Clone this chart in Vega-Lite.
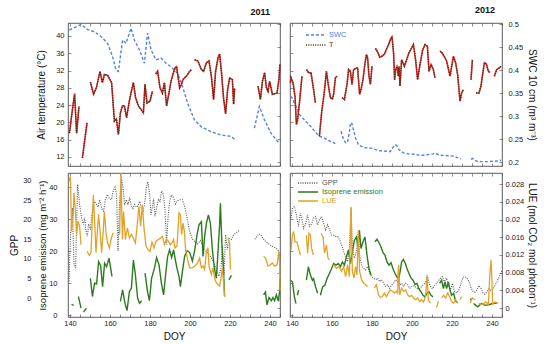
{
"$schema":"https://vega.github.io/schema/vega-lite/v6.json",
"background":"white",
"padding":{"left":9,"top":5,"right":0,"bottom":0},
"bounds":"flush",
"config":{"font":"Liberation Sans","view":{"stroke":"#333","strokeWidth":0.8},
"axis":{"labelFontSize":7.5,"titleFontSize":10,"titleFontWeight":"normal","labelColor":"#222","titleColor":"#111","grid":false,"domain":false,"tickColor":"#444","tickWidth":0.6,"labelOverlap":false},
"title":{"fontSize":9,"fontWeight":"bold","anchor":"end","offset":5,"color":"#111","frame":"group"}},
"columns":2,
"spacing":{"row":7,"column":10},
"resolve":{"scale":{"color":"independent"},"legend":{"color":"independent"}},
"concat":[
{"width":212,"height":143,
"title":{"text":"2011","dx":-10},
"layer":[
{"data":{"name":"s11"},"mark":{"type":"line","color":"#5580e0","strokeWidth":1.4,"strokeDash":[3,2]},"encoding":{"x":{"field":"d","type":"quantitative","scale":{"domain":[139,245],"nice":false,"zero":false},"axis":null},"y":{"field":"v","type":"quantitative","scale":{"domain":[0.1916,0.5022],"nice":false,"zero":false},"axis":{"orient":"right","labels":false,"title":null,"tickSize":-3,"values":[0.2,0.25,0.3,0.35,0.4,0.45,0.5]}},"detail":{"field":"g"}}},
{"data":{"name":"t11"},"mark":{"type":"line","color":"#e02828","strokeWidth":1.5},"encoding":{"x":{"field":"d","type":"quantitative","scale":{"domain":[139,245],"nice":false,"zero":false},"axis":{"values":[140,145,150,155,160,165,170,175,180,185,190,195,200,205,210,215,220,225,230,235,240,245],"labels":false,"title":null,"tickSize":-3}},"y":{"field":"v","type":"quantitative","scale":{"domain":[9.9,43],"nice":false,"zero":false},"axis":{"orient":"left","title":"Air temperature (°C)","values":[12,16,20,24,28,32,36,40],"tickSize":-3,"labelPadding":7,"titlePadding":9}},"detail":{"field":"g"}}},
{"data":{"name":"t11"},"mark":{"type":"line","color":"#4a2a10","strokeWidth":1.5,"strokeDash":[1,1.3]},"encoding":{"x":{"field":"d","type":"quantitative","scale":{"domain":[139,245],"nice":false,"zero":false},"axis":{"orient":"top","values":[140,145,150,155,160,165,170,175,180,185,190,195,200,205,210,215,220,225,230,235,240,245],"labels":false,"title":null,"tickSize":-3}},"y":{"field":"v","type":"quantitative","scale":{"domain":[9.9,43],"nice":false,"zero":false},"axis":null},"detail":{"field":"g"}}}
],
"resolve":{"scale":{"x":"independent","y":"independent"},"axis":{"x":"independent","y":"independent"}}},
{"width":212,"height":143,
"title":{"text":"2012","dx":-7},
"layer":[
{"data":{"name":"s12"},"mark":{"type":"line","strokeWidth":1.4,"strokeDash":[3,2]},"encoding":{"x":{"field":"d","type":"quantitative","scale":{"domain":[139,245],"nice":false,"zero":false},"axis":{"values":[140,145,150,155,160,165,170,175,180,185,190,195,200,205,210,215,220,225,230,235,240,245],"labels":false,"title":null,"tickSize":-3}},"y":{"field":"v","type":"quantitative","scale":{"domain":[0.1916,0.5022],"nice":false,"zero":false},"axis":{"orient":"right","title":"SWC 10 cm (m³ m⁻³)","values":[0.2,0.25,0.3,0.35,0.4,0.45,0.5],"format":"~g","tickSize":-3,"labelPadding":9,"titlePadding":4}},"detail":{"field":"g"},
"color":{"datum":"SWC","type":"nominal","scale":{"domain":["SWC","T"],"range":["#5580e0","#5a2a10"]},"legend":{"orient":"none","legendX":21,"legendY":7,"title":null,"symbolType":"M-2.5,0H2.5","symbolSize":64,"symbolStrokeWidth":1.5,"symbolFillColor":"transparent","labelFontSize":7.5,"labelOffset":8,"rowPadding":1,"padding":0,
"encode":{"symbols":{"update":{"strokeDash":{"signal":"datum.label === 'SWC' ? [3,2] : [1,1.3]"},"fill":{"value":"transparent"}}},"labels":{"update":{"fill":{"signal":"datum.label === 'SWC' ? '#5580e0' : '#7a3018'"}}}}}}}},
{"data":{"name":"t12"},"mark":{"type":"line","color":"#e02828","strokeWidth":1.5},"encoding":{"x":{"field":"d","type":"quantitative","scale":{"domain":[139,245],"nice":false,"zero":false},"axis":{"orient":"top","values":[140,145,150,155,160,165,170,175,180,185,190,195,200,205,210,215,220,225,230,235,240,245],"labels":false,"title":null,"tickSize":-3}},"y":{"field":"v","type":"quantitative","scale":{"domain":[9.9,43],"nice":false,"zero":false},"axis":{"orient":"left","labels":false,"title":null,"tickSize":-3,"values":[12,16,20,24,28,32,36,40]}},"detail":{"field":"g"}}},
{"data":{"name":"t12"},"mark":{"type":"line","strokeWidth":1.5,"strokeDash":[1,1.3]},"encoding":{"x":{"field":"d","type":"quantitative","scale":{"domain":[139,245],"nice":false,"zero":false},"axis":null},"y":{"field":"v","type":"quantitative","scale":{"domain":[9.9,43],"nice":false,"zero":false},"axis":null},"detail":{"field":"g"},"color":{"datum":"T","type":"nominal"}}}
],
"resolve":{"scale":{"x":"independent","y":"independent"},"axis":{"x":"independent","y":"independent"}}},
{"width":212,"height":144,
"layer":[
{"data":{"name":"g11"},"mark":{"type":"line","color":"#555555","strokeWidth":1.1,"strokeDash":[1,1.3]},"encoding":{"x":{"field":"d","type":"quantitative","scale":{"domain":[139,245],"nice":false,"zero":false},"axis":{"values":[140,145,150,155,160,165,170,175,180,185,190,195,200,205,210,215,220,225,230,235,240,245],"labelExpr":"datum.value % 20 === 0 ? datum.label : ''","labelFlush":false,"tickSize":-3,"labelPadding":5,"title":"DOY","titlePadding":5}},"y":{"field":"v","type":"quantitative","scale":{"domain":[-4.8,31.9],"nice":false,"zero":false},"axis":{"orient":"left","title":"GPP","values":[0,5,10,15,20,25,30],"ticks":false,"offset":30,"labelPadding":7,"titlePadding":3}},"detail":{"field":"g"}}},
{"data":{"name":"i11"},"mark":{"type":"line","color":"#2e7a1e","strokeWidth":1.4},"encoding":{"x":{"field":"d","type":"quantitative","scale":{"domain":[139,245],"nice":false,"zero":false},"axis":{"orient":"top","values":[140,145,150,155,160,165,170,175,180,185,190,195,200,205,210,215,220,225,230,235,240,245],"labels":false,"title":null,"tickSize":-3}},"y":{"field":"v","type":"quantitative","scale":{"domain":[-0.6,44.4],"nice":false,"zero":false},"axis":{"orient":"left","title":"Isoprene emisison (mg m⁻² h⁻¹)","titleFontSize":9.5,"values":[0,10,20,30,40],"tickSize":-3,"labelPadding":14,"titlePadding":1}},"detail":{"field":"g"}}},
{"data":{"name":"l11"},"mark":{"type":"line","color":"#e0a32a","strokeWidth":1.3},"encoding":{"x":{"field":"d","type":"quantitative","scale":{"domain":[139,245],"nice":false,"zero":false},"axis":null},"y":{"field":"v","type":"quantitative","scale":{"domain":[-0.002,0.0305],"nice":false,"zero":false},"axis":{"orient":"right","labels":false,"title":null,"tickSize":-3,"values":[0,0.004,0.008,0.012,0.016,0.02,0.024,0.028]}},"detail":{"field":"g"}}}
],
"resolve":{"scale":{"x":"independent","y":"independent"},"axis":{"x":"independent","y":"independent"}}},
{"width":212,"height":144,
"layer":[
{"data":{"name":"g12"},"mark":{"type":"line","strokeWidth":1.1,"strokeDash":[1,1.3]},"encoding":{"x":{"field":"d","type":"quantitative","scale":{"domain":[139,245],"nice":false,"zero":false},"axis":{"values":[140,145,150,155,160,165,170,175,180,185,190,195,200,205,210,215,220,225,230,235,240,245],"labelExpr":"datum.value % 20 === 0 ? datum.label : ''","labelFlush":false,"tickSize":-3,"labelPadding":5,"title":"DOY","titlePadding":5}},"y":{"field":"v","type":"quantitative","scale":{"domain":[-4.8,31.9],"nice":false,"zero":false},"axis":null},"detail":{"field":"g"},
"color":{"datum":"GPP","type":"nominal","scale":{"domain":["GPP","Isoprene emission","LUE"],"range":["#555555","#2e7a1e","#e0a32a"]},"legend":{"orient":"none","legendX":13,"legendY":5,"title":null,"symbolType":"M-2.5,0H2.5","symbolSize":64,"symbolStrokeWidth":1.5,"symbolFillColor":"transparent","labelFontSize":7.5,"labelOffset":9,"rowPadding":0,"padding":0,
"encode":{"symbols":{"update":{"strokeDash":{"signal":"datum.label === 'GPP' ? [1,1.3] : [1,0]"},"fill":{"value":"transparent"}}},"labels":{"update":{"fill":{"signal":"datum.label === 'GPP' ? '#555555' : datum.label === 'LUE' ? '#d89a20' : '#2e7a1e'"}}}}}}}},
{"data":{"name":"i12"},"mark":{"type":"line","strokeWidth":1.4},"encoding":{"x":{"field":"d","type":"quantitative","scale":{"domain":[139,245],"nice":false,"zero":false},"axis":{"orient":"top","values":[140,145,150,155,160,165,170,175,180,185,190,195,200,205,210,215,220,225,230,235,240,245],"labels":false,"title":null,"tickSize":-3}},"y":{"field":"v","type":"quantitative","scale":{"domain":[-0.6,44.4],"nice":false,"zero":false},"axis":{"orient":"left","labels":false,"title":null,"tickSize":-3,"values":[0,10,20,30,40]}},"detail":{"field":"g"},"color":{"datum":"Isoprene emission","type":"nominal"}}},
{"data":{"name":"l12"},"mark":{"type":"line","strokeWidth":1.3},"encoding":{"x":{"field":"d","type":"quantitative","scale":{"domain":[139,245],"nice":false,"zero":false},"axis":null},"y":{"field":"v","type":"quantitative","scale":{"domain":[-0.002,0.0305],"nice":false,"zero":false},"axis":{"orient":"right","title":"LUE (mol CO₂ mol photon⁻¹)","values":[0,0.004,0.008,0.012,0.016,0.02,0.024,0.028],"format":"~g","tickSize":-3,"labelPadding":6,"titlePadding":3}},"detail":{"field":"g"},"color":{"datum":"LUE","type":"nominal"}}}
],
"resolve":{"scale":{"x":"independent","y":"independent"},"axis":{"x":"independent","y":"independent"}}}
],
"datasets":{
"t11":[
{"d":139.7,"v":17.5,"g":"A"},{"d":141,"v":22.2,"g":"A"},{"d":142.3,"v":26.6,"g":"A"},{"d":143.3,"v":17.5,"g":"A"},{"d":144.5,"v":23.7,"g":"A"},
{"d":146.2,"v":11.8,"g":"B"},{"d":148.5,"v":19.9,"g":"B"},
{"d":150.2,"v":29.3,"g":"C"},{"d":151.8,"v":26.5,"g":"C"},{"d":153.3,"v":28.2,"g":"C"},{"d":155,"v":31.8,"g":"C"},{"d":156.2,"v":29.2,"g":"C"},{"d":157.2,"v":31.1,"g":"C"},{"d":158.8,"v":30.9,"g":"C"},{"d":160.8,"v":29.2,"g":"C"},{"d":162.2,"v":20.3,"g":"C"},{"d":163.2,"v":20.8,"g":"C"},{"d":164.2,"v":17.2,"g":"C"},{"d":165.2,"v":22.2,"g":"C"},{"d":166.2,"v":23.8,"g":"C"},{"d":167.2,"v":23.8,"g":"C"},{"d":168.3,"v":21.1,"g":"C"},{"d":169.5,"v":24.5,"g":"C"},{"d":170.5,"v":26.8,"g":"C"},{"d":171.7,"v":29.2,"g":"C"},{"d":172.8,"v":25.7,"g":"C"},{"d":174.2,"v":23.8,"g":"C"},{"d":175.5,"v":23,"g":"C"},{"d":176.7,"v":22.2,"g":"C"},{"d":177.5,"v":28.8,"g":"C"},{"d":178.5,"v":24.5,"g":"C"},{"d":180,"v":24.9,"g":"C"},{"d":181.2,"v":27.2,"g":"C"},
{"d":182.8,"v":31.2,"g":"D"},{"d":183.8,"v":31.8,"g":"D"},{"d":185,"v":28,"g":"D"},{"d":186.2,"v":26.8,"g":"D"},{"d":187.2,"v":29.2,"g":"D"},{"d":188.3,"v":23.8,"g":"D"},{"d":189.5,"v":26.8,"g":"D"},{"d":190.5,"v":29.5,"g":"D"},{"d":191.7,"v":31.5,"g":"D"},{"d":192.5,"v":32.6,"g":"D"},{"d":193.3,"v":32.9,"g":"D"},{"d":194.8,"v":28,"g":"D"},{"d":195.7,"v":28.8,"g":"D"},{"d":196.5,"v":29.9,"g":"D"},{"d":198.2,"v":30.7,"g":"D"},{"d":199.8,"v":31.8,"g":"D"},{"d":200.7,"v":32.2,"g":"D"},
{"d":202.3,"v":34.5,"g":"E"},{"d":204,"v":34.2,"g":"E"},{"d":205.7,"v":32.2,"g":"E"},{"d":206.8,"v":31.8,"g":"E"},{"d":208.2,"v":33.8,"g":"E"},{"d":209.5,"v":34.2,"g":"E"},{"d":210.7,"v":30.6,"g":"E"},{"d":211.8,"v":25.3,"g":"E"},{"d":212.8,"v":31.8,"g":"E"},{"d":214,"v":34.9,"g":"E"},{"d":214.8,"v":35.8,"g":"E"},{"d":215.7,"v":31.8,"g":"E"},{"d":216.8,"v":25.5,"g":"E"},{"d":217.8,"v":22,"g":"E"},{"d":218.8,"v":27.5,"g":"E"},{"d":219.8,"v":30.3,"g":"E"},{"d":221.2,"v":29.9,"g":"E"},{"d":221.8,"v":24.2,"g":"E"},{"d":222.3,"v":27.9,"g":"E"},
{"d":234,"v":28.4,"g":"F"},{"d":235.2,"v":25.3,"g":"F"},{"d":236.2,"v":29.5,"g":"F"},{"d":237.3,"v":31.5,"g":"F"},{"d":238.2,"v":28,"g":"F"},{"d":239,"v":27.2,"g":"F"},{"d":239.8,"v":29.5,"g":"F"},{"d":241.2,"v":26.5,"g":"F"},{"d":242.2,"v":26.6,"g":"F"},{"d":243.5,"v":26.8,"g":"F"},{"d":244.5,"v":30,"g":"F"},{"d":245,"v":33.5,"g":"F"}
],
"s11":[
{"d":139.7,"v":0.487,"g":"A"},{"d":145.5,"v":0.499,"g":"A"},{"d":148.8,"v":0.488,"g":"A"},{"d":152.2,"v":0.483,"g":"A"},{"d":155.5,"v":0.473,"g":"A"},{"d":158.8,"v":0.458,"g":"A"},{"d":161.3,"v":0.429,"g":"A"},{"d":163,"v":0.4,"g":"A"},{"d":164.2,"v":0.397,"g":"A"},{"d":166.3,"v":0.465,"g":"A"},{"d":168,"v":0.458,"g":"A"},{"d":170.5,"v":0.491,"g":"A"},{"d":172.2,"v":0.465,"g":"A"},{"d":174.7,"v":0.444,"g":"A"},{"d":177.2,"v":0.415,"g":"A"},{"d":178.8,"v":0.48,"g":"A"},{"d":180.5,"v":0.444,"g":"A"},{"d":183,"v":0.422,"g":"A"},{"d":185.5,"v":0.426,"g":"A"},{"d":188,"v":0.415,"g":"A"},{"d":190.5,"v":0.407,"g":"A"},{"d":193.8,"v":0.393,"g":"A"},{"d":196.3,"v":0.364,"g":"A"},{"d":198.8,"v":0.328,"g":"A"},{"d":202.2,"v":0.292,"g":"A"},{"d":205.5,"v":0.277,"g":"A"},{"d":210.5,"v":0.266,"g":"A"},{"d":215.5,"v":0.259,"g":"A"},{"d":220.5,"v":0.256,"g":"A"},{"d":222.2,"v":0.25,"g":"A"},
{"d":232.2,"v":0.274,"g":"B"},{"d":234.7,"v":0.321,"g":"B"},{"d":237.2,"v":0.292,"g":"B"},{"d":240.5,"v":0.263,"g":"B"},{"d":243.8,"v":0.245,"g":"B"},{"d":245,"v":0.241,"g":"B"}
],
"t12":[
{"d":139.2,"v":29.2,"g":"1"},{"d":139.5,"v":30.3,"g":"1"},{"d":140.5,"v":29.2,"g":"1"},{"d":141.5,"v":26,"g":"1"},{"d":142.2,"v":19.5,"g":"1"},{"d":142.8,"v":20.6,"g":"1"},{"d":143.8,"v":24.9,"g":"1"},{"d":145,"v":30.7,"g":"1"},
{"d":147.2,"v":32.2,"g":"2"},{"d":148.3,"v":31.5,"g":"2"},{"d":149.5,"v":31.5,"g":"2"},{"d":150.8,"v":27.6,"g":"2"},{"d":151.7,"v":24.5,"g":"2"},
{"d":153.7,"v":16.8,"g":"3"},{"d":154.8,"v":22.2,"g":"3"},{"d":156.2,"v":27.2,"g":"3"},{"d":157.2,"v":31.8,"g":"3"},{"d":158.3,"v":28.2,"g":"3"},{"d":159.2,"v":25.7,"g":"3"},{"d":160.2,"v":25.4,"g":"3"},{"d":160.8,"v":26.5,"g":"3"},{"d":161.7,"v":30.3,"g":"3"},{"d":162.5,"v":30.7,"g":"3"},
{"d":165,"v":25.7,"g":"4"},{"d":166.2,"v":25.3,"g":"4"},{"d":167.5,"v":28.8,"g":"4"},{"d":168.3,"v":32.2,"g":"4"},{"d":169.2,"v":31.8,"g":"4"},{"d":170,"v":28.8,"g":"4"},{"d":170.8,"v":32.2,"g":"4"},{"d":172.2,"v":32.6,"g":"4"},{"d":172.8,"v":32.6,"g":"4"},{"d":173.8,"v":26.5,"g":"4"},{"d":174.5,"v":27.6,"g":"4"},{"d":175.5,"v":29.9,"g":"4"},{"d":176.3,"v":33,"g":"4"},{"d":177.2,"v":35.7,"g":"4"},{"d":177.8,"v":34.9,"g":"4"},{"d":178.5,"v":30.7,"g":"4"},{"d":179.2,"v":28.8,"g":"4"},{"d":180,"v":33,"g":"4"},
{"d":181.7,"v":37.1,"g":"5"},{"d":182.8,"v":36.3,"g":"5"},{"d":183.8,"v":35.1,"g":"5"},{"d":185,"v":35.3,"g":"5"},{"d":186.2,"v":35.8,"g":"5"},{"d":187.5,"v":37.2,"g":"5"},{"d":188.3,"v":38,"g":"5"},{"d":189.2,"v":39.2,"g":"5"},{"d":190,"v":39.8,"g":"5"},{"d":190.8,"v":36,"g":"5"},{"d":191.3,"v":29.8,"g":"5"},{"d":191.8,"v":32.2,"g":"5"},{"d":192.5,"v":32.9,"g":"5"},{"d":193.2,"v":30.7,"g":"5"},{"d":193.5,"v":32.9,"g":"5"},{"d":194,"v":28.4,"g":"5"},{"d":194.8,"v":34.5,"g":"5"},{"d":196.2,"v":33,"g":"5"},{"d":197.3,"v":34.5,"g":"5"},{"d":198.5,"v":36.1,"g":"5"},{"d":199.8,"v":37.2,"g":"5"},{"d":200.7,"v":38,"g":"5"},{"d":201.8,"v":34.5,"g":"5"},{"d":202.8,"v":29.9,"g":"5"},{"d":204,"v":33.4,"g":"5"},{"d":205.2,"v":36.5,"g":"5"},{"d":206.5,"v":38,"g":"5"},{"d":207.7,"v":37.6,"g":"5"},{"d":208.5,"v":31.8,"g":"5"},{"d":209.5,"v":33.4,"g":"5"},{"d":210.7,"v":32.2,"g":"5"},{"d":211.5,"v":30.3,"g":"5"},
{"d":214,"v":36.5,"g":"6"},{"d":215,"v":36.1,"g":"6"},{"d":216.2,"v":35.2,"g":"6"},{"d":217.3,"v":34.2,"g":"6"},{"d":219,"v":30.7,"g":"6"},{"d":220.7,"v":35.3,"g":"6"},{"d":221.8,"v":33.8,"g":"6"},{"d":222.8,"v":31.1,"g":"6"},{"d":223.5,"v":27.6,"g":"6"},{"d":224,"v":24.9,"g":"6"},{"d":224.8,"v":26.8,"g":"6"},{"d":225.7,"v":27.6,"g":"6"},
{"d":229.5,"v":29.9,"g":"7"},{"d":230.2,"v":34.5,"g":"7"},
{"d":232,"v":26.8,"g":"8"},{"d":233.5,"v":26.8,"g":"8"},{"d":234.5,"v":28.4,"g":"8"},{"d":235.3,"v":31.1,"g":"8"},{"d":236.2,"v":33.8,"g":"8"},{"d":237.2,"v":33.5,"g":"8"},{"d":238.2,"v":31.8,"g":"8"},{"d":239,"v":31.5,"g":"8"},
{"d":241.2,"v":30.7,"g":"9"},{"d":242.3,"v":32.2,"g":"9"},{"d":243.3,"v":32.5,"g":"9"},{"d":244.5,"v":33,"g":"9"}
],
"s12":[
{"d":139.2,"v":0.343,"g":"1"},{"d":140.2,"v":0.339,"g":"1"},{"d":141.2,"v":0.326,"g":"1"},{"d":142.5,"v":0.317,"g":"1"},{"d":143.8,"v":0.303,"g":"1"},{"d":145.5,"v":0.295,"g":"1"},{"d":147.2,"v":0.287,"g":"1"},{"d":148.3,"v":0.283,"g":"1"},{"d":149.5,"v":0.277,"g":"1"},{"d":150.8,"v":0.27,"g":"1"},{"d":152.2,"v":0.263,"g":"1"},{"d":153.8,"v":0.256,"g":"1"},{"d":155.5,"v":0.254,"g":"1"},{"d":157.5,"v":0.249,"g":"1"},{"d":158.8,"v":0.246,"g":"1"},{"d":160,"v":0.244,"g":"1"},{"d":161.7,"v":0.24,"g":"1"},
{"d":164.5,"v":0.267,"g":"2"},{"d":165.5,"v":0.253,"g":"2"},{"d":166.8,"v":0.242,"g":"2"},{"d":167.8,"v":0.243,"g":"2"},{"d":168.7,"v":0.266,"g":"2"},{"d":169.2,"v":0.283,"g":"2"},{"d":169.8,"v":0.286,"g":"2"},{"d":170.5,"v":0.274,"g":"2"},{"d":171.7,"v":0.253,"g":"2"},{"d":173.3,"v":0.237,"g":"2"},{"d":175.8,"v":0.232,"g":"2"},{"d":177.8,"v":0.231,"g":"2"},{"d":180,"v":0.23,"g":"2"},{"d":183.3,"v":0.225,"g":"2"},{"d":185.8,"v":0.224,"g":"2"},{"d":189.2,"v":0.223,"g":"2"},{"d":190.5,"v":0.232,"g":"2"},{"d":191.7,"v":0.238,"g":"2"},{"d":192.5,"v":0.235,"g":"2"},{"d":193.5,"v":0.227,"g":"2"},{"d":195.7,"v":0.22,"g":"2"},{"d":198.2,"v":0.218,"g":"2"},{"d":200.7,"v":0.217,"g":"2"},{"d":204,"v":0.215,"g":"2"},{"d":206.5,"v":0.215,"g":"2"},{"d":209,"v":0.217,"g":"2"},{"d":210.7,"v":0.218,"g":"2"},{"d":211.5,"v":0.22,"g":"2"},{"d":212.8,"v":0.217,"g":"2"},{"d":214.8,"v":0.215,"g":"2"},{"d":218.2,"v":0.214,"g":"2"},{"d":220.7,"v":0.213,"g":"2"},{"d":223.2,"v":0.209,"g":"2"},{"d":224.5,"v":0.207,"g":"2"},
{"d":229.5,"v":0.206,"g":"3"},{"d":230.3,"v":0.208,"g":"3"},{"d":232.3,"v":0.202,"g":"3"},{"d":234.8,"v":0.201,"g":"3"},{"d":238.2,"v":0.201,"g":"3"},{"d":240.7,"v":0.202,"g":"3"},{"d":242.3,"v":0.202,"g":"3"},{"d":244.5,"v":0.204,"g":"3"}
],
"g11":[
{"d":139.5,"v":4.3,"g":"A"},{"d":140.3,"v":16.2,"g":"A"},{"d":141.2,"v":23,"g":"A"},{"d":142,"v":8.6,"g":"A"},{"d":142.8,"v":7.7,"g":"A"},{"d":143.8,"v":29,"g":"A"},{"d":144.8,"v":23.9,"g":"A"},{"d":145.8,"v":20.5,"g":"A"},{"d":146.7,"v":18.8,"g":"A"},{"d":147.3,"v":20.5,"g":"A"},{"d":148,"v":17.1,"g":"A"},{"d":148.7,"v":15.8,"g":"A"},{"d":149.3,"v":18.9,"g":"A"},{"d":150.2,"v":17.5,"g":"A"},{"d":151,"v":21.3,"g":"A"},{"d":152,"v":24.7,"g":"A"},{"d":153,"v":24.1,"g":"A"},{"d":154,"v":23.2,"g":"A"},{"d":154.8,"v":25.1,"g":"A"},{"d":155.8,"v":22.9,"g":"A"},{"d":156.8,"v":22.2,"g":"A"},{"d":157.7,"v":25.1,"g":"A"},{"d":158.7,"v":26.4,"g":"A"},{"d":159.7,"v":25.4,"g":"A"},{"d":160.7,"v":25.1,"g":"A"},{"d":161.5,"v":27.1,"g":"A"},{"d":162.5,"v":28.3,"g":"A"},{"d":163.3,"v":26.4,"g":"A"},{"d":164,"v":12,"g":"A"},{"d":164.8,"v":24.7,"g":"A"},{"d":165.7,"v":30.7,"g":"A"},{"d":166.5,"v":28.1,"g":"A"},{"d":167.3,"v":23.7,"g":"A"},{"d":168.2,"v":25.1,"g":"A"},{"d":169,"v":23.7,"g":"A"},{"d":169.8,"v":25.6,"g":"A"},{"d":170.7,"v":23.4,"g":"A"},{"d":171.5,"v":22.9,"g":"A"},{"d":172.3,"v":23.9,"g":"A"},{"d":173.2,"v":23.2,"g":"A"},{"d":174,"v":23.5,"g":"A"},{"d":174.8,"v":24.7,"g":"A"},{"d":175.7,"v":22.9,"g":"A"},{"d":176.5,"v":22.3,"g":"A"},{"d":177.3,"v":23.9,"g":"A"},{"d":178.2,"v":28.5,"g":"A"},{"d":179,"v":29.7,"g":"A"},{"d":179.8,"v":26.4,"g":"A"},{"d":180.5,"v":21.3,"g":"A"},{"d":181.2,"v":23.2,"g":"A"},{"d":181.8,"v":25.4,"g":"A"},{"d":182.5,"v":20.9,"g":"A"},{"d":183.3,"v":23,"g":"A"},{"d":184.2,"v":25.1,"g":"A"},{"d":185,"v":24.7,"g":"A"},{"d":185.8,"v":27.3,"g":"A"},{"d":186.7,"v":26.4,"g":"A"},{"d":187.5,"v":22.6,"g":"A"},{"d":188.3,"v":13.7,"g":"A"},{"d":189,"v":20.5,"g":"A"},{"d":189.8,"v":24.7,"g":"A"},{"d":190.8,"v":26.3,"g":"A"},{"d":191.8,"v":25.6,"g":"A"},{"d":192.8,"v":24,"g":"A"},{"d":193.5,"v":24.7,"g":"A"},{"d":194.8,"v":25.1,"g":"A"},{"d":196.2,"v":25.1,"g":"A"},{"d":197.3,"v":23.4,"g":"A"},{"d":198.5,"v":20.5,"g":"A"},{"d":199.8,"v":17.1,"g":"A"},{"d":201.2,"v":15,"g":"A"},{"d":202.5,"v":14.4,"g":"A"},{"d":203.8,"v":13.8,"g":"A"},{"d":205.2,"v":14.7,"g":"A"},{"d":206.5,"v":13.3,"g":"A"},{"d":207.8,"v":12.1,"g":"A"},{"d":209.2,"v":11.3,"g":"A"},{"d":210.5,"v":10.5,"g":"A"},{"d":211.8,"v":9,"g":"A"},{"d":213.2,"v":7.3,"g":"A"},{"d":214.5,"v":5.6,"g":"A"},{"d":215.5,"v":7.7,"g":"A"},{"d":216.2,"v":13.3,"g":"A"},{"d":217,"v":6,"g":"A"},{"d":217.8,"v":16.2,"g":"A"},{"d":218.7,"v":12.4,"g":"A"},{"d":219.5,"v":15.2,"g":"A"},{"d":220.7,"v":15,"g":"A"},{"d":221.8,"v":16.2,"g":"A"},{"d":223.2,"v":16.7,"g":"A"},{"d":224.5,"v":17.2,"g":"A"},
{"d":232.5,"v":15,"g":"B"},{"d":233.5,"v":15.8,"g":"B"},{"d":234.5,"v":16.4,"g":"B"},{"d":235.5,"v":16.1,"g":"B"},{"d":236.5,"v":15.2,"g":"B"},{"d":237.7,"v":14.5,"g":"B"},{"d":238.8,"v":14.1,"g":"B"},{"d":240.2,"v":13.5,"g":"B"},{"d":241.5,"v":13.1,"g":"B"},{"d":242.8,"v":12.8,"g":"B"},{"d":244.2,"v":12.1,"g":"B"},{"d":245,"v":10.4,"g":"B"}
],
"i11":[
{"d":140.8,"v":3.4,"g":"A"},{"d":141.8,"v":3,"g":"A"},
{"d":144.2,"v":5.8,"g":"B"},{"d":144.8,"v":4.1,"g":"B"},{"d":145.5,"v":2.2,"g":"B"},
{"d":146.8,"v":0.9,"g":"C"},{"d":148.2,"v":2.2,"g":"C"},
{"d":150.2,"v":11.5,"g":"D"},{"d":151.2,"v":5.8,"g":"D"},{"d":152.3,"v":10,"g":"D"},{"d":153.3,"v":9.7,"g":"D"},{"d":154.3,"v":16.7,"g":"D"},{"d":155.3,"v":15.5,"g":"D"},{"d":156.3,"v":8.9,"g":"D"},{"d":157.3,"v":16.2,"g":"D"},{"d":158.3,"v":15.1,"g":"D"},{"d":159.5,"v":17.8,"g":"D"},{"d":161,"v":12.1,"g":"D"},
{"d":165.2,"v":4.3,"g":"E"},{"d":166.3,"v":7.9,"g":"E"},{"d":167.5,"v":3.7,"g":"E"},{"d":168.5,"v":1.4,"g":"E"},{"d":169.7,"v":7.4,"g":"E"},{"d":170.7,"v":8.4,"g":"E"},{"d":171.7,"v":17.2,"g":"E"},{"d":172.7,"v":12.6,"g":"E"},{"d":173.8,"v":5.3,"g":"E"},{"d":174.8,"v":3.7,"g":"E"},{"d":175.8,"v":4.5,"g":"E"},
{"d":177.5,"v":13.1,"g":"F"},{"d":178.8,"v":7.2,"g":"F"},{"d":179.7,"v":4.5,"g":"F"},{"d":180.8,"v":11.5,"g":"F"},{"d":182.2,"v":14.6,"g":"F"},{"d":183.3,"v":18,"g":"F"},{"d":184.5,"v":15.7,"g":"F"},{"d":185.7,"v":10,"g":"F"},{"d":186.8,"v":6.3,"g":"F"},{"d":187.8,"v":12.6,"g":"F"},{"d":188.8,"v":18.3,"g":"F"},{"d":189.8,"v":20.4,"g":"F"},{"d":190.8,"v":18,"g":"F"},{"d":191.8,"v":20.4,"g":"F"},{"d":192.5,"v":17.8,"g":"F"},{"d":193.5,"v":14.6,"g":"F"},{"d":194.5,"v":12.1,"g":"F"},{"d":195.2,"v":8.9,"g":"F"},{"d":196.2,"v":13.6,"g":"F"},{"d":197.3,"v":18.3,"g":"F"},{"d":198.5,"v":20.1,"g":"F"},{"d":199.8,"v":19.6,"g":"F"},{"d":201.2,"v":16.9,"g":"F"},{"d":202.3,"v":20.1,"g":"F"},{"d":203.5,"v":25,"g":"F"},{"d":204.5,"v":28.2,"g":"F"},{"d":205.7,"v":29.2,"g":"F"},{"d":206.5,"v":18.3,"g":"F"},{"d":207.3,"v":24.5,"g":"F"},{"d":208.2,"v":28.7,"g":"F"},{"d":209.2,"v":31.3,"g":"F"},{"d":210.2,"v":28.7,"g":"F"},{"d":211.2,"v":20.4,"g":"F"},{"d":212.2,"v":14.6,"g":"F"},{"d":213.2,"v":11.5,"g":"F"},{"d":214,"v":19.8,"g":"F"},{"d":214.8,"v":28.2,"g":"F"},{"d":215.2,"v":34.9,"g":"F"},{"d":216,"v":21.4,"g":"F"},{"d":216.7,"v":14.6,"g":"F"},{"d":217.3,"v":5.8,"g":"F"},
{"d":219.5,"v":11,"g":"H"},{"d":220.7,"v":12.4,"g":"H"},
{"d":236.8,"v":6.3,"g":"I"},{"d":237.7,"v":7.2,"g":"I"},{"d":238.5,"v":3.2,"g":"I"},{"d":239.5,"v":5.5,"g":"I"},{"d":240.7,"v":4.5,"g":"I"},{"d":241.5,"v":5.5,"g":"I"},{"d":242.3,"v":4.5,"g":"I"},{"d":243.2,"v":6.3,"g":"I"},{"d":244.2,"v":4.3,"g":"I"},{"d":244.8,"v":7.4,"g":"I"},{"d":245,"v":11.5,"g":"I"}
],
"l11":[
{"d":139.5,"v":0.0286,"g":"A"},{"d":140.2,"v":0.0297,"g":"A"},{"d":140.8,"v":0.0173,"g":"A"},{"d":141.5,"v":0.0203,"g":"A"},{"d":142,"v":0.026,"g":"A"},{"d":142.7,"v":0.0218,"g":"A"},{"d":143.3,"v":0.0166,"g":"A"},{"d":144,"v":0.0196,"g":"A"},{"d":144.8,"v":0.0185,"g":"A"},{"d":145.5,"v":0.0143,"g":"A"},
{"d":148.5,"v":0.0128,"g":"B"},{"d":149.7,"v":0.0119,"g":"B"},{"d":150.5,"v":0.0125,"g":"B"},{"d":151.2,"v":0.0207,"g":"B"},{"d":151.7,"v":0.0256,"g":"B"},{"d":152.3,"v":0.0196,"g":"B"},{"d":153,"v":0.0125,"g":"B"},{"d":153.8,"v":0.0181,"g":"B"},{"d":154.3,"v":0.0211,"g":"B"},{"d":155.2,"v":0.0166,"g":"B"},{"d":155.8,"v":0.0125,"g":"B"},{"d":156.5,"v":0.0166,"g":"B"},{"d":157.2,"v":0.0218,"g":"B"},{"d":158,"v":0.017,"g":"B"},{"d":158.8,"v":0.0147,"g":"B"},{"d":159.7,"v":0.0136,"g":"B"},{"d":160.5,"v":0.0155,"g":"B"},{"d":161.5,"v":0.017,"g":"B"},
{"d":164.8,"v":0.0166,"g":"C"},{"d":165.5,"v":0.0305,"g":"C"},{"d":166.2,"v":0.0155,"g":"C"},{"d":166.8,"v":0.0218,"g":"C"},{"d":167.7,"v":0.0155,"g":"C"},{"d":168.7,"v":0.0181,"g":"C"},{"d":169.7,"v":0.0158,"g":"C"},{"d":170.7,"v":0.0167,"g":"C"},{"d":171.7,"v":0.0157,"g":"C"},{"d":172.7,"v":0.0147,"g":"C"},{"d":173.7,"v":0.0192,"g":"C"},{"d":174.5,"v":0.023,"g":"C"},{"d":175.3,"v":0.0185,"g":"C"},{"d":176.2,"v":0.0233,"g":"C"},{"d":177,"v":0.0181,"g":"C"},{"d":178,"v":0.014,"g":"C"},{"d":179,"v":0.0132,"g":"C"},{"d":180,"v":0.0128,"g":"C"},{"d":181,"v":0.0149,"g":"C"},{"d":182,"v":0.0136,"g":"C"},{"d":183,"v":0.0151,"g":"C"},{"d":184.2,"v":0.0155,"g":"C"},{"d":185.2,"v":0.0158,"g":"C"},{"d":186.2,"v":0.0162,"g":"C"},{"d":187.2,"v":0.0143,"g":"C"},{"d":188.2,"v":0.0155,"g":"C"},{"d":189.2,"v":0.0151,"g":"C"},{"d":190.2,"v":0.0143,"g":"C"},{"d":191.2,"v":0.0149,"g":"C"},{"d":191.8,"v":0.0155,"g":"C"},{"d":192.5,"v":0.0136,"g":"C"},{"d":193.5,"v":0.014,"g":"C"},{"d":194.5,"v":0.0215,"g":"C"},{"d":195.2,"v":0.0211,"g":"C"},{"d":195.8,"v":0.0166,"g":"C"},{"d":196.5,"v":0.0192,"g":"C"},{"d":197.2,"v":0.0173,"g":"C"},{"d":197.8,"v":0.0132,"g":"C"},{"d":198.8,"v":0.011,"g":"C"},{"d":199.8,"v":0.0091,"g":"C"},{"d":201.2,"v":0.0091,"g":"C"},{"d":202.5,"v":0.0095,"g":"C"},{"d":203.8,"v":0.0102,"g":"C"},{"d":204.8,"v":0.0113,"g":"C"},{"d":205.7,"v":0.0091,"g":"C"},{"d":206.5,"v":0.0095,"g":"C"},{"d":207.3,"v":0.0087,"g":"C"},{"d":208.2,"v":0.0128,"g":"C"},{"d":209,"v":0.0136,"g":"C"},{"d":209.5,"v":0.0095,"g":"C"},{"d":210.7,"v":0.0076,"g":"C"},{"d":211.5,"v":0.0091,"g":"C"},{"d":212.3,"v":0.0068,"g":"C"},{"d":213.2,"v":0.0057,"g":"C"},{"d":214,"v":0.0053,"g":"C"},{"d":214.8,"v":0.005,"g":"C"},{"d":215.3,"v":0.0061,"g":"C"},{"d":216.2,"v":0.0091,"g":"C"},{"d":216.8,"v":0.0057,"g":"C"},{"d":217.3,"v":0.0027,"g":"C"},
{"d":219,"v":0.0158,"g":"D"},{"d":219.8,"v":0.0147,"g":"D"},{"d":220.2,"v":0.0087,"g":"D"},
{"d":236.8,"v":0.0117,"g":"E"},{"d":237.8,"v":0.0113,"g":"E"},{"d":239,"v":0.0095,"g":"E"},{"d":240.2,"v":0.0098,"g":"E"},{"d":241.2,"v":0.0102,"g":"E"},{"d":242.3,"v":0.0095,"g":"E"},{"d":243.5,"v":0.0098,"g":"E"},{"d":244.5,"v":0.0128,"g":"E"},{"d":244.8,"v":0.0098,"g":"E"},{"d":245,"v":0.0038,"g":"E"}
],
"g12":[
{"d":139.5,"v":20.4,"g":"A"},{"d":140.3,"v":22.9,"g":"A"},{"d":141.2,"v":23.4,"g":"A"},{"d":142.2,"v":21.2,"g":"A"},{"d":143.2,"v":18.3,"g":"A"},{"d":144.2,"v":21.7,"g":"A"},{"d":145,"v":20,"g":"A"},{"d":145.8,"v":17.8,"g":"A"},{"d":146.8,"v":18.9,"g":"A"},{"d":147.8,"v":21.2,"g":"A"},{"d":148.8,"v":18.3,"g":"A"},{"d":149.8,"v":18.9,"g":"A"},{"d":150.8,"v":20.4,"g":"A"},{"d":151.8,"v":20.8,"g":"A"},{"d":152.8,"v":18.7,"g":"A"},{"d":153.8,"v":20,"g":"A"},{"d":154.8,"v":20.8,"g":"A"},{"d":155.8,"v":19.1,"g":"A"},{"d":156.8,"v":17.4,"g":"A"},{"d":157.8,"v":18.7,"g":"A"},{"d":158.8,"v":17.4,"g":"A"},{"d":159.8,"v":16.1,"g":"A"},{"d":160.8,"v":16.1,"g":"A"},{"d":161.8,"v":15.7,"g":"A"},{"d":162.8,"v":15.7,"g":"A"},{"d":163.8,"v":14.9,"g":"A"},{"d":164.8,"v":13.6,"g":"A"},{"d":165.8,"v":11.9,"g":"A"},{"d":166.8,"v":10.6,"g":"A"},{"d":167.8,"v":9.3,"g":"A"},{"d":168.8,"v":13.6,"g":"A"},{"d":169.5,"v":22.9,"g":"A"},{"d":170.2,"v":12.7,"g":"A"},{"d":171.2,"v":10.2,"g":"A"},{"d":172.2,"v":11.9,"g":"A"},{"d":173.2,"v":17,"g":"A"},{"d":173.8,"v":11,"g":"A"},{"d":174.8,"v":8.5,"g":"A"},{"d":175.8,"v":7.6,"g":"A"},{"d":176.8,"v":7.2,"g":"A"},{"d":177.8,"v":8.1,"g":"A"},{"d":178.8,"v":6.4,"g":"A"},{"d":179.8,"v":5.5,"g":"A"},{"d":180.8,"v":5.1,"g":"A"},{"d":181.8,"v":4.7,"g":"A"},{"d":182.8,"v":5.1,"g":"A"},{"d":183.8,"v":4.2,"g":"A"},{"d":184.8,"v":4.7,"g":"A"},{"d":185.8,"v":3.8,"g":"A"},{"d":186.8,"v":3,"g":"A"},{"d":187.8,"v":3.4,"g":"A"},{"d":188.8,"v":2.5,"g":"A"},{"d":189.8,"v":3.4,"g":"A"},{"d":190.8,"v":3.8,"g":"A"},{"d":191.8,"v":4.7,"g":"A"},{"d":192.8,"v":4.2,"g":"A"},{"d":193.3,"v":8.1,"g":"A"},{"d":193.8,"v":3.4,"g":"A"},{"d":194.8,"v":3.8,"g":"A"},{"d":195.8,"v":3,"g":"A"},{"d":196.8,"v":3.8,"g":"A"},{"d":197.8,"v":3.4,"g":"A"},{"d":198.8,"v":2.5,"g":"A"},{"d":199.8,"v":3,"g":"A"},{"d":201.2,"v":3.2,"g":"A"},{"d":202.5,"v":2.5,"g":"A"},{"d":203.8,"v":2.4,"g":"A"},{"d":205.2,"v":3.2,"g":"A"},{"d":206.5,"v":3.8,"g":"A"},{"d":207.8,"v":5.5,"g":"A"},{"d":208.8,"v":3.4,"g":"A"},{"d":210.2,"v":2.4,"g":"A"},{"d":211.5,"v":3.4,"g":"A"},{"d":212.8,"v":4.1,"g":"A"},{"d":214.2,"v":5.1,"g":"A"},{"d":215.2,"v":5.5,"g":"A"},{"d":216.2,"v":4.2,"g":"A"},{"d":217.2,"v":5.1,"g":"A"},{"d":218.2,"v":3.4,"g":"A"},{"d":219.2,"v":1.9,"g":"A"},{"d":220.2,"v":3.8,"g":"A"},{"d":221.2,"v":1.7,"g":"A"},{"d":222.3,"v":1.3,"g":"A"},{"d":223.5,"v":2.1,"g":"A"},{"d":224.5,"v":3.8,"g":"A"},{"d":225.5,"v":5.3,"g":"A"},{"d":226.5,"v":5.5,"g":"A"},{"d":227.5,"v":5.1,"g":"A"},{"d":228.5,"v":4.2,"g":"A"},{"d":229.5,"v":2.7,"g":"A"},{"d":230.5,"v":1.7,"g":"A"},{"d":231.5,"v":1.5,"g":"A"},{"d":232.5,"v":2.1,"g":"A"},{"d":233.5,"v":3.2,"g":"A"},{"d":234.5,"v":2.5,"g":"A"},{"d":235.5,"v":1.3,"g":"A"},{"d":236.5,"v":1,"g":"A"},{"d":237.5,"v":1.7,"g":"A"},{"d":238.5,"v":2.4,"g":"A"},{"d":239.5,"v":1.9,"g":"A"},{"d":240.5,"v":2.4,"g":"A"},{"d":241.5,"v":3.2,"g":"A"},{"d":242.5,"v":4.2,"g":"A"},{"d":243.5,"v":5.3,"g":"A"},{"d":244.5,"v":6.4,"g":"A"},{"d":245,"v":7,"g":"A"}
],
"i12":[
{"d":139.2,"v":10.9,"g":"A"},{"d":140.2,"v":10.4,"g":"A"},{"d":141.2,"v":5.7,"g":"A"},{"d":142,"v":3.6,"g":"A"},
{"d":142.7,"v":6.2,"g":"A2"},{"d":143.3,"v":7.8,"g":"A2"},
{"d":147.2,"v":10.9,"g":"B"},{"d":148.2,"v":15.1,"g":"B"},{"d":149.2,"v":12.5,"g":"B"},{"d":150.2,"v":10.9,"g":"B"},{"d":150.8,"v":11.4,"g":"B"},{"d":151.8,"v":8.8,"g":"B"},{"d":152.8,"v":6.8,"g":"B"},
{"d":154.2,"v":6.2,"g":"C"},{"d":155.3,"v":8.8,"g":"C"},{"d":156.5,"v":9.4,"g":"C"},{"d":157.5,"v":11.4,"g":"C"},{"d":158.7,"v":13,"g":"C"},{"d":159.8,"v":14.5,"g":"C"},{"d":160.8,"v":16.1,"g":"C"},{"d":162,"v":15.6,"g":"C"},{"d":163.2,"v":16.1,"g":"C"},{"d":164.2,"v":15.1,"g":"C"},{"d":165.2,"v":16.6,"g":"C"},{"d":166.2,"v":15.6,"g":"C"},{"d":167.2,"v":18.2,"g":"C"},{"d":168.2,"v":20.3,"g":"C"},{"d":169.2,"v":16.1,"g":"C"},{"d":170.2,"v":19.7,"g":"C"},{"d":171.2,"v":23.4,"g":"C"},{"d":172.2,"v":24.4,"g":"C"},{"d":173,"v":21.3,"g":"C"},{"d":173.7,"v":26.5,"g":"C"},{"d":174.5,"v":20.8,"g":"C"},{"d":175.5,"v":22.9,"g":"C"},{"d":176.5,"v":24.4,"g":"C"},{"d":177.5,"v":18.7,"g":"C"},{"d":178.5,"v":14.5,"g":"C"},{"d":179.5,"v":12.5,"g":"C"},
{"d":181.5,"v":22.9,"g":"D"},{"d":182.5,"v":23.7,"g":"D"},{"d":183.5,"v":22.6,"g":"D"},{"d":184.5,"v":21.3,"g":"D"},{"d":185.5,"v":19.5,"g":"D"},{"d":186.5,"v":18.7,"g":"D"},{"d":187.5,"v":16.6,"g":"D"},{"d":188.5,"v":15.6,"g":"D"},{"d":189.5,"v":16.4,"g":"D"},{"d":190.5,"v":14.5,"g":"D"},{"d":191.5,"v":13,"g":"D"},{"d":192.5,"v":11.9,"g":"D"},{"d":193.3,"v":11.4,"g":"D"},{"d":194.2,"v":14,"g":"D"},{"d":194.8,"v":16.6,"g":"D"},{"d":195.7,"v":17.4,"g":"D"},{"d":196.7,"v":16.1,"g":"D"},{"d":197.5,"v":14.5,"g":"D"},{"d":198.5,"v":13,"g":"D"},{"d":199.5,"v":11.6,"g":"D"},{"d":200.5,"v":10.9,"g":"D"},{"d":201.5,"v":9.6,"g":"D"},{"d":202.5,"v":9.9,"g":"D"},{"d":203.5,"v":8.1,"g":"D"},{"d":204.5,"v":7.3,"g":"D"},{"d":205.5,"v":6.2,"g":"D"},{"d":206.5,"v":5.7,"g":"D"},{"d":207.5,"v":6.8,"g":"D"},{"d":208.5,"v":7.3,"g":"D"},{"d":209.5,"v":6.2,"g":"D"},{"d":210.5,"v":5.7,"g":"D"},
{"d":213.8,"v":9.9,"g":"E"},{"d":214.8,"v":10.9,"g":"E"},{"d":215.7,"v":8.3,"g":"E"},{"d":216.5,"v":10.4,"g":"E"},{"d":217.3,"v":8.3,"g":"E"},{"d":218.2,"v":10.4,"g":"E"},{"d":219,"v":7.8,"g":"E"},{"d":219.8,"v":6.2,"g":"E"},{"d":220.8,"v":6.8,"g":"E"},{"d":221.8,"v":4.4,"g":"E"},{"d":222.8,"v":3.9,"g":"E"},
{"d":229.2,"v":4.7,"g":"F"},{"d":229.8,"v":5.2,"g":"F"},
{"d":230.8,"v":3.6,"g":"G"},{"d":231.8,"v":3.1,"g":"G"},{"d":232.8,"v":2.6,"g":"G"},{"d":233.8,"v":3.1,"g":"G"},{"d":234.8,"v":3.6,"g":"G"},{"d":236.2,"v":3.1,"g":"G"},{"d":237.5,"v":3.1,"g":"G"},{"d":238.8,"v":3.3,"g":"G"},{"d":240.2,"v":3.6,"g":"G"},{"d":241.5,"v":3.7,"g":"G"},{"d":242.8,"v":3.8,"g":"G"}
],
"l12":[
{"d":139.5,"v":0.0131,"g":"A"},{"d":140.2,"v":0.0165,"g":"A"},{"d":140.8,"v":0.0173,"g":"A"},{"d":141.5,"v":0.015,"g":"A"},{"d":142.5,"v":0.0149,"g":"A"},{"d":143.3,"v":0.0135,"g":"A"},{"d":144.2,"v":0.012,"g":"A"},
{"d":147.2,"v":0.0165,"g":"B"},{"d":147.8,"v":0.0124,"g":"B"},{"d":148.5,"v":0.0169,"g":"B"},{"d":149.2,"v":0.0165,"g":"B"},{"d":149.8,"v":0.0135,"g":"B"},{"d":150.7,"v":0.012,"g":"B"},
{"d":154.5,"v":0.0169,"g":"C"},{"d":155.5,"v":0.0161,"g":"C"},{"d":156.3,"v":0.0124,"g":"C"},{"d":157.2,"v":0.0143,"g":"C"},{"d":158,"v":0.0113,"g":"C"},{"d":158.8,"v":0.0109,"g":"C"},
{"d":160.8,"v":0.0098,"g":"D"},{"d":162.2,"v":0.009,"g":"D"},{"d":163.5,"v":0.0094,"g":"D"},{"d":164.8,"v":0.0083,"g":"D"},{"d":165.8,"v":0.0094,"g":"D"},{"d":166.8,"v":0.0071,"g":"D"},{"d":167.8,"v":0.0098,"g":"D"},{"d":168.7,"v":0.0071,"g":"D"},{"d":169.5,"v":0.0229,"g":"D"},{"d":170.2,"v":0.0083,"g":"D"},{"d":171,"v":0.0068,"g":"D"},{"d":171.8,"v":0.0094,"g":"D"},{"d":172.5,"v":0.0075,"g":"D"},{"d":173.2,"v":0.0176,"g":"D"},{"d":173.8,"v":0.0083,"g":"D"},{"d":174.8,"v":0.0064,"g":"D"},{"d":175.8,"v":0.0056,"g":"D"},{"d":176.8,"v":0.0053,"g":"D"},{"d":177.8,"v":0.0049,"g":"D"},
{"d":181.2,"v":0.0045,"g":"E"},{"d":182.2,"v":0.0053,"g":"E"},{"d":183.2,"v":0.003,"g":"E"},{"d":184.2,"v":0.0024,"g":"E"},{"d":185.2,"v":0.0026,"g":"E"},{"d":186.2,"v":0.0034,"g":"E"},{"d":187.2,"v":0.0026,"g":"E"},{"d":188.2,"v":0.0034,"g":"E"},{"d":189.2,"v":0.0041,"g":"E"},{"d":190.2,"v":0.0038,"g":"E"},{"d":191.2,"v":0.0034,"g":"E"},{"d":192.2,"v":0.0038,"g":"E"},{"d":192.8,"v":0.0034,"g":"E"},{"d":193.3,"v":0.0098,"g":"E"},{"d":193.8,"v":0.003,"g":"E"},{"d":194.8,"v":0.0045,"g":"E"},{"d":195.8,"v":0.0038,"g":"E"},{"d":196.8,"v":0.0041,"g":"E"},{"d":197.8,"v":0.003,"g":"E"},{"d":198.8,"v":0.0026,"g":"E"},{"d":199.8,"v":0.0029,"g":"E"},{"d":200.8,"v":0.0023,"g":"E"},{"d":201.8,"v":0.0019,"g":"E"},{"d":202.8,"v":0.0023,"g":"E"},{"d":203.8,"v":0.0015,"g":"E"},{"d":204.8,"v":0.0019,"g":"E"},{"d":205.8,"v":0.0014,"g":"E"},{"d":206.8,"v":0.0026,"g":"E"},{"d":207.5,"v":0.0075,"g":"E"},{"d":208.2,"v":0.0019,"g":"E"},{"d":209.2,"v":0.0011,"g":"E"},
{"d":212.3,"v":0.0001,"g":"F"},{"d":213.2,"v":0.0016,"g":"F"},
{"d":214.8,"v":0.0023,"g":"G"},{"d":215.8,"v":0.0029,"g":"G"},{"d":216.8,"v":0.0023,"g":"G"},{"d":217.8,"v":0.0034,"g":"G"},{"d":218.8,"v":0.0026,"g":"G"},{"d":219.8,"v":0.0015,"g":"G"},{"d":220.8,"v":0.0011,"g":"G"},{"d":221.8,"v":0.0019,"g":"G"},{"d":222.8,"v":0.0011,"g":"G"},
{"d":224,"v":0.0019,"g":"H"},{"d":224.8,"v":0.0026,"g":"H"},
{"d":229,"v":0.0011,"g":"I"},{"d":230.2,"v":0.0023,"g":"I"},{"d":231.5,"v":0.0019,"g":"I"},
{"d":233.5,"v":0.0011,"g":"J"},{"d":234.5,"v":0.0008,"g":"J"},{"d":235.7,"v":0.0009,"g":"J"},{"d":236.8,"v":0.0014,"g":"J"},{"d":238.2,"v":0.0009,"g":"J"},{"d":238.8,"v":0.0068,"g":"J"},{"d":239.5,"v":0.0109,"g":"J"},{"d":240,"v":0.006,"g":"J"},{"d":240.3,"v":0.0009,"g":"J"},{"d":241.5,"v":0.0014,"g":"J"},{"d":242.8,"v":0.0011,"g":"J"}
]
}
}
